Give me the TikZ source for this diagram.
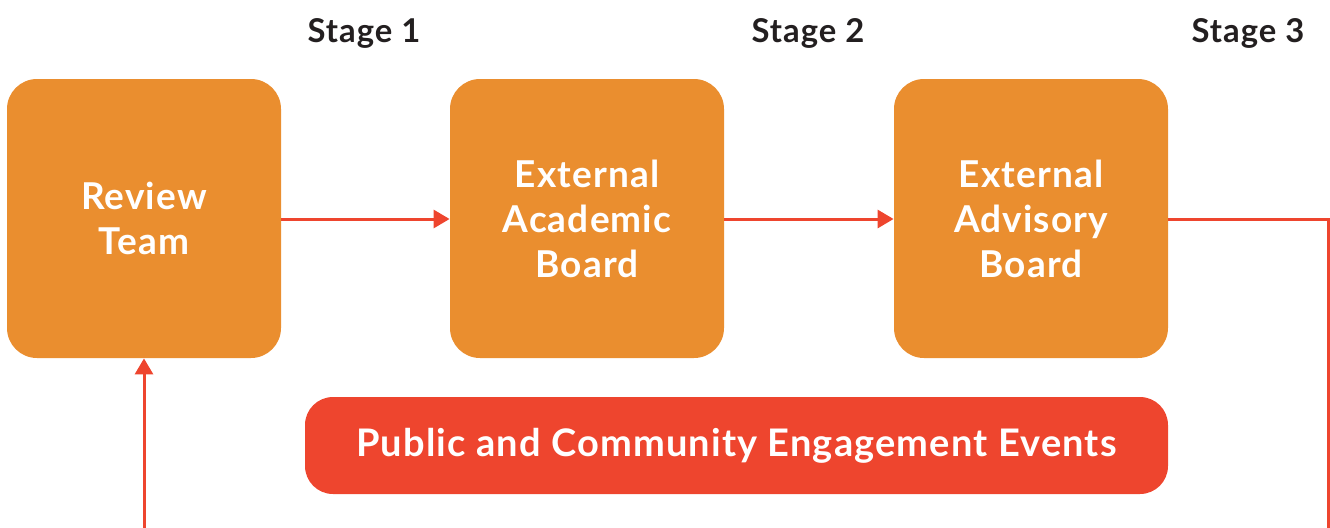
\documentclass[tikz,border=0pt]{standalone}
\usepackage{fontspec}
\setmainfont{Lato}[LetterSpace=3]
\usetikzlibrary{positioning,shapes,arrows.meta}

\definecolor{boxorange}{RGB}{234,142,47}
\definecolor{linered}{RGB}{238,69,46}
\definecolor{stagegray}{RGB}{35,31,32}

\tikzset{
	board/.style={rectangle, rounded corners=15pt, fill=boxorange, text=white,
		minimum width=137pt, minimum height=139.5pt, align=center,
		font=\bfseries\fontsize{18.5}{22.5}\selectfont},
	event/.style={rectangle, rounded corners=14pt, fill=linered, text=white,
		minimum width=431.5pt, minimum height=48.5pt,
		font=\bfseries\fontsize{19}{22}\selectfont},
	stage/.style={anchor=base, text=stagegray, font=\bfseries\fontsize{16.4}{18}\selectfont},
	flow/.style={draw=linered, line width=1.5pt, -{Triangle[length=8pt,width=9pt]}}
}

\begin{document}
\begin{tikzpicture}[x=0.5pt, y=-0.5pt]
		\clip (0, 0) rectangle (1330, 527);
		\useasboundingbox (0, 0) rectangle (1330, 527);
		\node[stage] (S1) at (364, 42) {Stage 1};
		\node[stage] (S2) at (808, 42) {Stage 2};
		\node[stage] (S3) at (1248, 42) {Stage 3};
		\node[board] (RT) at (144, 218.5) {Review\\Team};
		\node[board] (EAB) at (587, 218.5) {External\\Academic\\Board};
		\node[board] (EVB) at (1031, 218.5) {External\\Advisory\\Board};
		\node[event] (PCE) at (736.5, 445.5) {Public and Community Engagement Events};
		\coordinate (C1) at (1328.5, 219);
		\coordinate (C2) at (1328.5, 540);
		\coordinate (C3) at (144, 540);
		\draw[flow] (RT.east |- 0, 219) -- (EAB.west |- 0, 219);
		\draw[flow] (EAB.east |- 0, 219) -- (EVB.west |- 0, 219);
		\draw[draw=linered, line width=1.5pt] (EVB.east |- C1) -- (C1) -- (C2);
		\draw[flow] (C3) -- (RT.south);
	\end{tikzpicture}
\end{document}
